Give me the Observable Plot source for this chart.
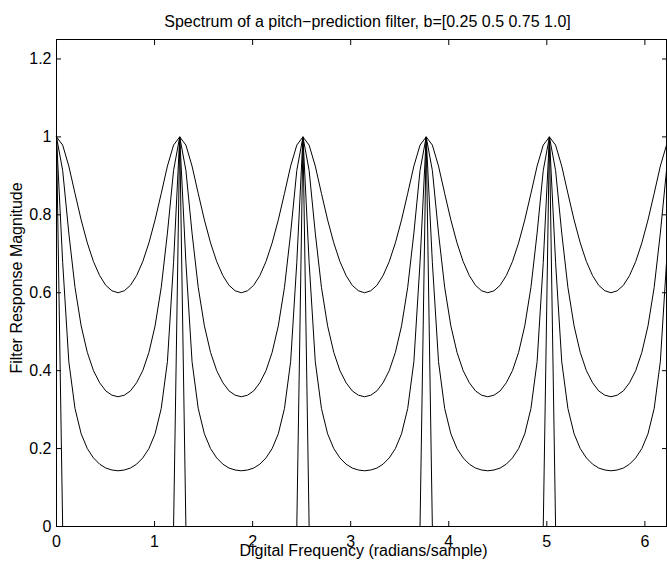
<!DOCTYPE html>
<html>
<head>
<meta charset="utf-8">
<script src="https://cdn.jsdelivr.net/npm/d3@7"></script>
<script src="https://cdn.jsdelivr.net/npm/@observablehq/plot@0.6"></script>
<style>
  html, body { margin: 0; padding: 0; background: #fff; }
</style>
</head>
<body>
<div id="chart"></div>
<script>
// Digital frequency samples (radians/sample)
const freq = [
  0, 0.0628, 0.1257, 0.1885, 0.2513, 0.3142, 0.3770, 0.4398, 0.5027, 0.5655,
  0.6283, 0.6912, 0.7540, 0.8168, 0.8796, 0.9425, 1.0053, 1.0681, 1.1310, 1.1938,
  1.2566, 1.3195, 1.3823, 1.4451, 1.5080, 1.5708, 1.6336, 1.6965, 1.7593, 1.8221,
  1.8850, 1.9478, 2.0106, 2.0735, 2.1363, 2.1991, 2.2619, 2.3248, 2.3876, 2.4504,
  2.5133, 2.5761, 2.6389, 2.7018, 2.7646, 2.8274, 2.8903, 2.9531, 3.0159, 3.0788,
  3.1416, 3.2044, 3.2673, 3.3301, 3.3929, 3.4558, 3.5186, 3.5814, 3.6442, 3.7071,
  3.7699, 3.8327, 3.8956, 3.9584, 4.0212, 4.0841, 4.1469, 4.2097, 4.2726, 4.3354,
  4.3982, 4.4611, 4.5239, 4.5867, 4.6496, 4.7124, 4.7752, 4.8381, 4.9009, 4.9637,
  5.0265, 5.0894, 5.1522, 5.2150, 5.2779, 5.3407, 5.4035, 5.4664, 5.5292, 5.5920,
  5.6549, 5.7177, 5.7805, 5.8434, 5.9062, 5.9690, 6.0319, 6.0947, 6.1575, 6.2204
];

// Magnitude for b = 0.25
const mag025 = [
  1, .979, .925, .855, .787, .728, .680, .644, .619, .605, .600, .605, .619, .644, .680, .728, .787, .855, .925, .979,
  1, .979, .925, .855, .787, .728, .680, .644, .619, .605, .600, .605, .619, .644, .680, .728, .787, .855, .925, .979,
  1, .979, .925, .855, .787, .728, .680, .644, .619, .605, .600, .605, .619, .644, .680, .728, .787, .855, .925, .979,
  1, .979, .925, .855, .787, .728, .680, .644, .619, .605, .600, .605, .619, .644, .680, .728, .787, .855, .925, .979,
  1, .979, .925, .855, .787, .728, .680, .644, .619, .605, .600, .605, .619, .644, .680, .728, .787, .855, .925, .979
];
// Magnitude for b = 0.5
const mag050 = [
  1, .914, .753, .614, .515, .447, .400, .369, .348, .337, .333, .337, .348, .369, .400, .447, .515, .614, .753, .914,
  1, .914, .753, .614, .515, .447, .400, .369, .348, .337, .333, .337, .348, .369, .400, .447, .515, .614, .753, .914,
  1, .914, .753, .614, .515, .447, .400, .369, .348, .337, .333, .337, .348, .369, .400, .447, .515, .614, .753, .914,
  1, .914, .753, .614, .515, .447, .400, .369, .348, .337, .333, .337, .348, .369, .400, .447, .515, .614, .753, .914,
  1, .914, .753, .614, .515, .447, .400, .369, .348, .337, .333, .337, .348, .369, .400, .447, .515, .614, .753, .914
];
// Magnitude for b = 0.75
const mag075 = [
  1, .678, .423, .303, .238, .200, .176, .160, .150, .145, .143, .145, .150, .160, .176, .200, .238, .303, .423, .678,
  1, .678, .423, .303, .238, .200, .176, .160, .150, .145, .143, .145, .150, .160, .176, .200, .238, .303, .423, .678,
  1, .678, .423, .303, .238, .200, .176, .160, .150, .145, .143, .145, .150, .160, .176, .200, .238, .303, .423, .678,
  1, .678, .423, .303, .238, .200, .176, .160, .150, .145, .143, .145, .150, .160, .176, .200, .238, .303, .423, .678,
  1, .678, .423, .303, .238, .200, .176, .160, .150, .145, .143, .145, .150, .160, .176, .200, .238, .303, .423, .678
];
// Magnitude for b = 1.0
const mag100 = [
  1, 0, 0, 0, 0, 0, 0, 0, 0, 0, 0, 0, 0, 0, 0, 0, 0, 0, 0, 0,
  1, 0, 0, 0, 0, 0, 0, 0, 0, 0, 0, 0, 0, 0, 0, 0, 0, 0, 0, 0,
  1, 0, 0, 0, 0, 0, 0, 0, 0, 0, 0, 0, 0, 0, 0, 0, 0, 0, 0, 0,
  1, 0, 0, 0, 0, 0, 0, 0, 0, 0, 0, 0, 0, 0, 0, 0, 0, 0, 0, 0,
  1, 0, 0, 0, 0, 0, 0, 0, 0, 0, 0, 0, 0, 0, 0, 0, 0, 0, 0, 0
];

const seriesNames = ["b=0.25", "b=0.5", "b=0.75", "b=1.0"];
const seriesValues = [mag025, mag050, mag075, mag100];

const xTicks = [0, 1, 2, 3, 4, 5, 6];
const yTicks = [0, 0.2, 0.4, 0.6, 0.8, 1, 1.2];

const titleText = "Spectrum of a pitch\u2212prediction filter, b=[0.25 0.5 0.75 1.0]";
const xLabelText = "Digital Frequency (radians/sample)";
const yLabelText = "Filter Response Magnitude";

const rows = [];
seriesNames.forEach((s, j) => {
  freq.forEach((f, i) => rows.push({series: s, freq: f, mag: seriesValues[j][i]}));
});

const fontFamily = '"Liberation Sans", Arial, Helvetica, sans-serif';
const fmt = d => String(d);

const chart = Plot.plot({
  width: 667,
  height: 566,
  marginLeft: 56,
  marginRight: 1,
  marginTop: 39,
  marginBottom: 40,
  style: {fontFamily, fontSize: "16px", color: "black", background: "white"},
  x: {domain: [0, 6.2204]},
  y: {domain: [0, 1.25]},
  marks: [
    Plot.line(rows, {x: "freq", y: "mag", z: "series", stroke: "black", strokeWidth: 1}),
    Plot.frame({stroke: "black", strokeWidth: 1}),
    Plot.axisX({ticks: xTicks, anchor: "bottom", tickSize: -5, tickPadding: 14, tickFormat: fmt, label: null, fontSize: 16}),
    Plot.axisX({ticks: xTicks, anchor: "top", tickSize: -5, tickFormat: () => "", label: null}),
    Plot.axisY({ticks: yTicks, anchor: "left", tickSize: -5, tickPadding: 10, tickFormat: fmt, label: null, fontSize: 16}),
    Plot.axisY({ticks: yTicks, anchor: "right", tickSize: -5, tickFormat: () => "", label: null}),
    Plot.text([titleText], {text: d => d, frameAnchor: "top", dy: -18, dx: 6, lineAnchor: "middle", textAnchor: "middle", fontSize: 16}),
    Plot.text([xLabelText], {text: d => d, frameAnchor: "bottom", dy: 24, dx: 2, lineAnchor: "middle", textAnchor: "middle", fontSize: 16}),
    Plot.text([yLabelText], {text: d => d, frameAnchor: "left", dx: -40, dy: -5, rotate: -90, lineAnchor: "middle", textAnchor: "middle", fontSize: 16})
  ]
});

document.getElementById("chart").appendChild(chart);
</script>
</body>
</html>
